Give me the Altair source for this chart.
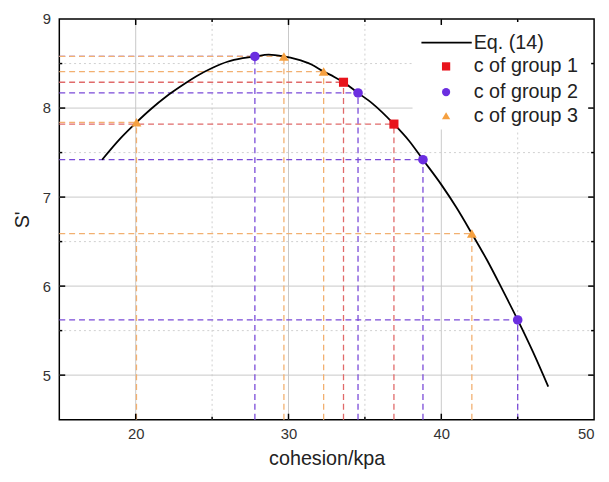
import altair as alt
import pandas as pd

# ---------------- data ----------------
curve_x = [17.8, 19, 20.05, 21, 22, 23, 24, 25, 26, 27, 27.8, 28.7, 29.7, 30.5, 31.5,
           32.3, 33, 33.6, 34.55, 35.5, 36.9, 37.9, 38.8, 40, 41, 42, 43, 44, 45, 46, 47]
curve_y = [7.42, 7.66, 7.84, 7.99, 8.13, 8.25, 8.36, 8.45, 8.52, 8.56, 8.58, 8.60, 8.58, 8.55, 8.49,
           8.41, 8.35, 8.29, 8.17, 8.05, 7.82, 7.63, 7.42, 7.14, 6.88, 6.59, 6.29, 5.96, 5.62, 5.26, 4.87]

g1_x = [33.6, 36.9]
g1_y = [8.29, 7.82]
g2_x = [27.8, 34.55, 38.8, 45.0]
g2_y = [8.58, 8.17, 7.42, 5.62]
g3_x = [20.05, 29.7, 32.3, 42.0]
g3_y = [7.84, 8.58, 8.41, 6.59]

x_ticks = [20, 30, 40, 50]
y_ticks = [5, 6, 7, 8, 9]
major_x = [20, 30, 40]
minor_x = [25, 35, 45]
major_y = [5, 6, 7, 8]
minor_y = [5.5, 6.5, 7.5, 8.5]

legend_labels = ["Eq. (14)", "c of group 1", "c of group 2", "c of group 3"]

# ---------------- styling ----------------
W, H = 542, 406
X0, X1 = 15, 50
Y0, Y1 = 4.5, 9
FONT = "Liberation Sans"
XT, YT = "cohesion/kpa", "S'"
RED, PURPLE, ORANGE = "#e8141c", "#6b2ee0", "#f5a040"
DASH_RED, DASH_PURPLE, DASH_ORANGE = "#e06a6a", "#7a4ad8", "#f2b070"

xs = alt.Scale(domain=[X0, X1], nice=False, zero=False)
ys = alt.Scale(domain=[Y0, Y1], nice=False, zero=False)
x_axis = alt.Axis(values=x_ticks)
y_axis = alt.Axis(values=y_ticks)


def X(field="x"):
    return alt.X(f"{field}:Q", scale=xs, title=XT, axis=x_axis)


def Y(field="y"):
    return alt.Y(f"{field}:Q", scale=ys, title=YT, axis=y_axis)


# ---------------- tables ----------------
curve = pd.DataFrame({"x": curve_x, "y": curve_y})
g1 = pd.DataFrame({"x": g1_x, "y": g1_y})
g2 = pd.DataFrame({"x": g2_x, "y": g2_y})
g3 = pd.DataFrame({"x": g3_x, "y": g3_y})


def guides(df, color):
    h = pd.DataFrame({"x": [X0] * len(df), "x2": df["x"], "y": df["y"]})
    v = pd.DataFrame({"x": df["x"], "y": [Y0] * len(df), "y2": df["y"]})
    hl = alt.Chart(h).mark_rule(color=color, strokeDash=[6, 4], strokeWidth=1.3).encode(
        x=X(), x2="x2:Q", y=Y())
    vl = alt.Chart(v).mark_rule(color=color, strokeDash=[6, 4], strokeWidth=1.3).encode(
        x=X(), y=Y(), y2="y2:Q")
    return hl + vl


axes = alt.Chart(pd.DataFrame({"x": [X0, X1], "y": [Y0, Y1]})).mark_point(opacity=0).encode(
    x=X(), y=Y())

grid_major_v = alt.Chart(pd.DataFrame({"x": major_x})).mark_rule(color="#c8c8c8", strokeWidth=1).encode(x=X())
grid_minor_v = alt.Chart(pd.DataFrame({"x": minor_x})).mark_rule(
    color="#cfcfcf", strokeWidth=1, strokeDash=[2, 3]).encode(x=X())
grid_major_h = alt.Chart(pd.DataFrame({"y": major_y})).mark_rule(color="#c8c8c8", strokeWidth=1).encode(y=Y())
grid_minor_h = alt.Chart(pd.DataFrame({"y": minor_y})).mark_rule(
    color="#cfcfcf", strokeWidth=1, strokeDash=[2, 3]).encode(y=Y())


# inward tick marks on all four sides
def xtick(vals, length):
    d = pd.DataFrame({"x": vals})
    b = alt.Chart(d).mark_rule(color="black", strokeWidth=1.5).encode(
        x=X(), y=alt.value(H), y2=alt.value(H - length))
    t = alt.Chart(d).mark_rule(color="black", strokeWidth=1.5).encode(
        x=X(), y=alt.value(0), y2=alt.value(length))
    return b + t


def ytick(vals, length):
    d = pd.DataFrame({"y": vals})
    l = alt.Chart(d).mark_rule(color="black", strokeWidth=1.5).encode(
        y=Y(), x=alt.value(0), x2=alt.value(length))
    r = alt.Chart(d).mark_rule(color="black", strokeWidth=1.5).encode(
        y=Y(), x=alt.value(W), x2=alt.value(W - length))
    return l + r


ticks = xtick(major_x, 6) + xtick(minor_x, 3) + ytick(major_y, 6) + ytick(minor_y, 3)

line = alt.Chart(curve).mark_line(color="black", strokeWidth=1.8, interpolate="monotone").encode(
    x=X(), y=Y())

p1 = alt.Chart(g1).mark_point(shape="square", filled=True, color=RED, size=85, opacity=1).encode(x=X(), y=Y())
p2 = alt.Chart(g2).mark_point(shape="circle", filled=True, color=PURPLE, size=95, opacity=1).encode(x=X(), y=Y())
p3 = alt.Chart(g3).mark_point(shape="triangle-up", filled=True, color=ORANGE, size=100, opacity=1).encode(x=X(), y=Y())

# ---------------- legend (drawn inside the plot) ----------------
one = pd.DataFrame({"a": [0]})
leg_bg = alt.Chart(one).mark_rect(color="white").encode(
    x=alt.value(358), x2=alt.value(W - 2), y=alt.value(3), y2=alt.value(112))
leg_line = alt.Chart(one).mark_rule(color="black", strokeWidth=1.8).encode(
    x=alt.value(367), x2=alt.value(418), y=alt.value(24))
leg_sq = alt.Chart(one).mark_point(shape="square", filled=True, color=RED, size=70, opacity=1).encode(
    x=alt.value(392), y=alt.value(48))
leg_ci = alt.Chart(one).mark_point(shape="circle", filled=True, color=PURPLE, size=70, opacity=1).encode(
    x=alt.value(392), y=alt.value(74))
leg_tr = alt.Chart(one).mark_point(shape="triangle-up", filled=True, color=ORANGE, size=70, opacity=1).encode(
    x=alt.value(392), y=alt.value(98))
leg_rows = [24, 48, 74, 98]
leg_texts = [
    alt.Chart(one).mark_text(align="left", baseline="middle", font=FONT, fontSize=20, color="#222").encode(
        x=alt.value(420), y=alt.value(yy), text=alt.value(lab))
    for lab, yy in zip(legend_labels, leg_rows)
]

chart = alt.layer(
    axes, grid_major_v, grid_minor_v, grid_major_h, grid_minor_h,
    guides(g1, DASH_RED), guides(g2, DASH_PURPLE), guides(g3, DASH_ORANGE),
    leg_bg, ticks, line, p1, p2, p3,
    leg_line, leg_sq, leg_ci, leg_tr, *leg_texts,
).properties(
    width=W, height=H,
    background="white",
    autosize=alt.AutoSizeParams(type="none"),
    padding={"left": 52, "top": 8, "right": 7, "bottom": 60},
).configure_axis(
    ticks=False, grid=False, domain=False,
    labelFontSize=15, labelColor="#333", labelFont=FONT,
    titleFontSize=20, titleFont=FONT, titleFontWeight="normal", titleColor="#222",
).configure_axisX(labelPadding=7, titlePadding=7).configure_axisY(labelPadding=9, titlePadding=10
).configure_view(stroke="black", strokeWidth=1.5)

chart.save("out.html", embed_options={"renderer": "svg", "actions": False})
